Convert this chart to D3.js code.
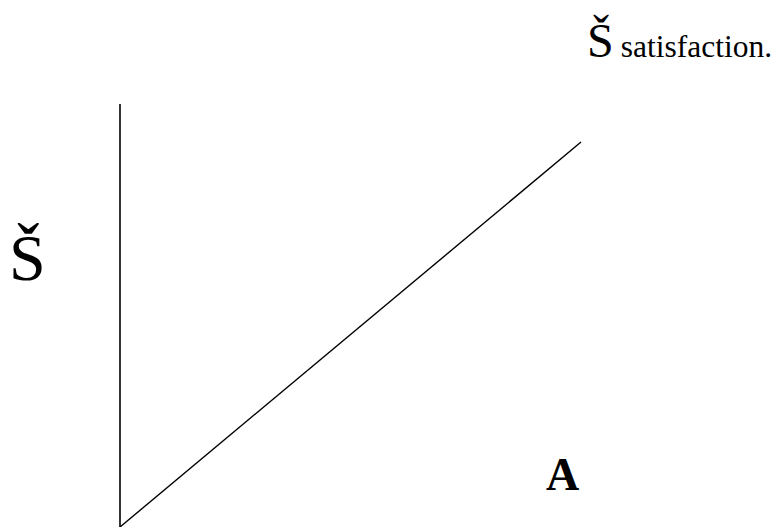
<!DOCTYPE html>
<html><head><meta charset="utf-8">
<script src="https://cdn.jsdelivr.net/npm/d3@7"></script>
<style>html,body{margin:0;padding:0;background:#fff;}svg{display:block;}</style>
</head><body>
<script>
const lineX = [0, 1];
const lineY = [0, 0.91];
const axisY = [0, 1];
const titleSymbol = "\u0160";
const titleText = "satisfaction.";
const yLabel = "\u0160";
const xLabel = "A";

const W = 778, H = 527;
const FONT = '"Liberation Serif"';
const svg = d3.select("body").append("svg").attr("width", W).attr("height", H);
const x = d3.scaleLinear().domain([0, 1]).range([120, 581]);
const y = d3.scaleLinear().domain([0, 1]).range([527, 104]);

svg.append("line")
  .attr("x1", x(0)).attr("x2", x(0))
  .attr("y1", y(axisY[0])).attr("y2", y(axisY[1]))
  .attr("stroke", "#000").attr("stroke-width", 1.6);

const line = d3.line().x((d,i)=>x(lineX[i])).y(d=>y(d));
svg.append("path").datum(lineY).attr("d", line)
  .attr("fill", "none").attr("stroke", "#000").attr("stroke-width", 1.4);

const t = svg.append("text").attr("x", 587).attr("y", 57).style("font-family", FONT).attr("fill", "#000");
t.append("tspan").style("font-family", FONT).style("font-size", "48px").text(titleSymbol);
t.append("tspan").style("font-family", FONT).style("font-size", "31.5px").attr("dx", 7).text(titleText);

svg.append("text").attr("x", 9).attr("y", 280).style("font-family", FONT)
  .style("font-size", "66px").text(yLabel);

svg.append("text").attr("x", 546).attr("y", 490).style("font-family", FONT)
  .style("font-weight", "bold").style("font-size", "46px").text(xLabel);
</script>
</body></html>
